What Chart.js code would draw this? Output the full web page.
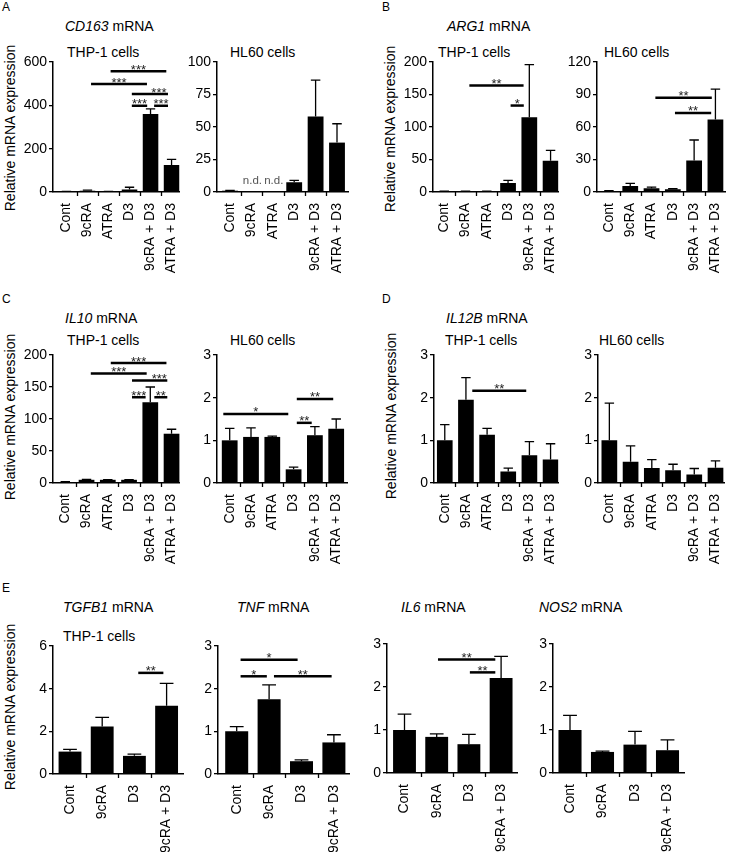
<!DOCTYPE html>
<html>
<head>
<meta charset="utf-8">
<script src="https://cdn.jsdelivr.net/npm/chart.js@4.4.1/dist/chart.umd.min.js"></script>
<style>
body { margin: 0; background: #fff; width: 729px; height: 852px; position: relative; overflow: hidden;
  font-family: "Liberation Sans", Arial, sans-serif; color: #000; }
canvas, .t { position: absolute; }
.t { font-size: 14px; line-height: 16px; white-space: nowrap; }
.lt { font-size: 12px; line-height: 14px; }
.yl { width: 220px; text-align: center; transform: rotate(-90deg); }
</style>
</head>
<body>
<!-- panel letters -->
<div class="t lt" style="left:2px;top:0px">A</div>
<div class="t lt" style="left:382px;top:0px">B</div>
<div class="t lt" style="left:2px;top:292px">C</div>
<div class="t lt" style="left:382px;top:292px">D</div>
<div class="t lt" style="left:2px;top:581px">E</div>

<!-- gene titles -->
<div class="t" style="left:65px;top:18px"><i>CD163</i> mRNA</div>
<div class="t" style="left:447px;top:18px"><i>ARG1</i> mRNA</div>
<div class="t" style="left:65px;top:310px"><i>IL10</i> mRNA</div>
<div class="t" style="left:446px;top:310px"><i>IL12B</i> mRNA</div>
<div class="t" style="left:63px;top:599px"><i>TGFB1</i> mRNA</div>
<div class="t" style="left:237px;top:599px"><i>TNF</i> mRNA</div>
<div class="t" style="left:401px;top:599px"><i>IL6</i> mRNA</div>
<div class="t" style="left:539px;top:599px"><i>NOS2</i> mRNA</div>

<!-- cell lines -->
<div class="t" style="left:67px;top:44px">THP-1 cells</div>
<div class="t" style="left:230px;top:44px">HL60 cells</div>
<div class="t" style="left:438px;top:44px">THP-1 cells</div>
<div class="t" style="left:604px;top:44px">HL60 cells</div>
<div class="t" style="left:67px;top:332px">THP-1 cells</div>
<div class="t" style="left:230px;top:332px">HL60 cells</div>
<div class="t" style="left:445px;top:332px">THP-1 cells</div>
<div class="t" style="left:599px;top:332px">HL60 cells</div>
<div class="t" style="left:63px;top:628px">THP-1 cells</div>

<!-- y axis titles -->
<div class="t yl" style="left:-100px;top:120px">Relative mRNA expression</div>
<div class="t yl" style="left:280px;top:121px">Relative mRNA expression</div>
<div class="t yl" style="left:-100px;top:409px">Relative mRNA expression</div>
<div class="t yl" style="left:281px;top:408px">Relative mRNA expression</div>
<div class="t yl" style="left:-100px;top:699px">Relative mRNA expression</div>

<script>
'use strict'

// categories

var cats6 = ['Cont', '9cRA', 'ATRA', 'D3', '9cRA + D3', 'ATRA + D3'];
var cats4 = ['Cont', '9cRA', 'D3', '9cRA + D3'];

// values (mean, error); null = n.d.
// sig rows: [from, to, level, stars, text position] in category units

var cd163Thp1 = [2, 6, 2, 12, 360, 125];
var cd163Thp1Err = [1, 3, 1, 10, 24, 26];
var cd163Thp1Ticks = [0, 200, 400, 600];
var cd163Thp1Sig = [[2.1, 4.75, 557, '***'], [1.17, 3.83, 498, '***'], [3.11, 4.83, 452, '***', 4.4],
  [3.11, 3.84, 398, '***'], [4.17, 4.83, 398, '***']];

var cd163Hl60 = [1, null, null, 7.5, 58, 38];
var cd163Hl60Err = [0.3, 0, 0, 1.5, 28, 14.5];
var cd163Hl60Ticks = [0, 25, 50, 75, 100];

var arg1Thp1 = [1, 1, 1, 14, 115, 48];
var arg1Thp1Err = [0.5, 0.5, 0.5, 4, 81, 16];
var arg1Thp1Ticks = [0, 50, 100, 150, 200];
var arg1Thp1Sig = [[1.18, 3.73, 164, '**'], [3.12, 3.74, 133, '*']];

var arg1Hl60 = [1, 5.5, 3.5, 2.5, 29, 67];
var arg1Hl60Err = [0.3, 2.5, 1, 0.5, 19, 28];
var arg1Hl60Ticks = [0, 30, 60, 90, 120];
var arg1Hl60Sig = [[2.18, 4.83, 87, '**'], [3.1, 4.8, 73, '**']];

var il10Thp1 = [1.5, 5, 5, 5, 126, 77];
var il10Thp1Err = [0.5, 0.5, 0.3, 0.3, 24, 7];
var il10Thp1Ticks = [0, 50, 100, 150, 200];
var il10Thp1Sig = [[2.14, 4.76, 187.5, '***'], [1.2, 3.83, 171, '***'], [3.14, 4.8, 160, '***', 4.42],
  [3.14, 3.78, 134, '***'], [4.19, 4.8, 134, '**']];

var il10Hl60 = [1.0, 1.08, 1.08, 0.32, 1.12, 1.27];
var il10Hl60Err = [0.28, 0.21, 0.02, 0.05, 0.2, 0.23];
var il10Hl60Ticks = [0, 1, 2, 3];
var il10Hl60Sig = [[-0.3, 2.75, 1.62, '*'], [3.15, 3.85, 1.41, '**'], [3.15, 4.86, 1.97, '**']];

var il12bThp1 = [1.0, 1.95, 1.13, 0.27, 0.65, 0.55];
var il12bThp1Err = [0.37, 0.52, 0.15, 0.08, 0.32, 0.37];
var il12bThp1Ticks = [0, 1, 2, 3];
var il12bThp1Sig = [[1.3, 3.85, 2.16, '**']];

var il12bHl60 = [1.0, 0.5, 0.35, 0.3, 0.2, 0.36];
var il12bHl60Err = [0.87, 0.37, 0.2, 0.14, 0.14, 0.16];
var il12bHl60Ticks = [0, 1, 2, 3];

var tgfb1 = [1.05, 2.23, 0.85, 3.2];
var tgfb1Err = [0.1, 0.42, 0.08, 1.05];
var tgfb1Ticks = [0, 2, 4, 6];
var tgfb1Sig = [[2.12, 2.9, 4.74, '**']];

var tnf = [1.0, 1.75, 0.3, 0.74];
var tnfErr = [0.11, 0.34, 0.03, 0.18];
var tnfTicks = [0, 1, 2, 3];
var tnfSig = [[0.12, 1.88, 2.68, '*'], [0.12, 0.93, 2.29, '*'], [1.15, 2.93, 2.29, '**']];

var il6 = [1.0, 0.84, 0.67, 2.21];
var il6Err = [0.37, 0.07, 0.23, 0.5];
var il6Ticks = [0, 1, 2, 3];
var il6Sig = [[1.04, 2.82, 2.64, '**'], [2.03, 2.82, 2.34, '**']];

var nos2 = [1.0, 0.49, 0.66, 0.53];
var nos2Err = [0.34, 0.02, 0.31, 0.24];
var nos2Ticks = [0, 1, 2, 3];

// where each plot sits on the page (axis corners in px)

var panels = [
  {cats: cats6, vals: cd163Thp1, err: cd163Thp1Err, ticks: cd163Thp1Ticks, sig: cd163Thp1Sig, axL: 53, axR: 182, top: 62, bot: 192, c0: 66.7, step: 21.4, bar: 0.74},
  {cats: cats6, vals: cd163Hl60, err: cd163Hl60Err, ticks: cd163Hl60Ticks, sig: [], axL: 217, axR: 348, top: 62, bot: 192, c0: 230, step: 21.4, bar: 0.74},
  {cats: cats6, vals: arg1Thp1, err: arg1Thp1Err, ticks: arg1Thp1Ticks, sig: arg1Thp1Sig, axL: 433, axR: 561, top: 62, bot: 192, c0: 444.5, step: 21.7, bar: 0.74},
  {cats: cats6, vals: arg1Hl60, err: arg1Hl60Err, ticks: arg1Hl60Ticks, sig: arg1Hl60Sig, axL: 597, axR: 726, top: 62, bot: 192, c0: 609, step: 21.4, bar: 0.74},
  {cats: cats6, vals: il10Thp1, err: il10Thp1Err, ticks: il10Thp1Ticks, sig: il10Thp1Sig, axL: 53, axR: 182, top: 355, bot: 483, c0: 65.5, step: 21.6, bar: 0.74},
  {cats: cats6, vals: il10Hl60, err: il10Hl60Err, ticks: il10Hl60Ticks, sig: il10Hl60Sig, axL: 217, axR: 347, top: 355, bot: 483, c0: 229.7, step: 21.3, bar: 0.74},
  {cats: cats6, vals: il12bThp1, err: il12bThp1Err, ticks: il12bThp1Ticks, sig: il12bThp1Sig, axL: 434, axR: 561, top: 355, bot: 483, c0: 445, step: 21.6, bar: 0.74},
  {cats: cats6, vals: il12bHl60, err: il12bHl60Err, ticks: il12bHl60Ticks, sig: [], axL: 598, axR: 726, top: 355, bot: 483, c0: 609.5, step: 21.5, bar: 0.74},
  {cats: cats4, vals: tgfb1, err: tgfb1Err, ticks: tgfb1Ticks, sig: tgfb1Sig, axL: 53, axR: 183, top: 646, bot: 774, c0: 70, step: 32.2, bar: 0.71},
  {cats: cats4, vals: tnf, err: tnfErr, ticks: tnfTicks, sig: tnfSig, axL: 218, axR: 349, top: 646, bot: 774, c0: 236.7, step: 32.4, bar: 0.71},
  {cats: cats4, vals: il6, err: il6Err, ticks: il6Ticks, sig: il6Sig, axL: 387, axR: 517, top: 644, bot: 773, c0: 404.5, step: 32.2, bar: 0.71},
  {cats: cats4, vals: nos2, err: nos2Err, ticks: nos2Ticks, sig: [], axL: 553, axR: 684, top: 644, bot: 773, c0: 570, step: 32.5, bar: 0.71}
];

var FONT = '"Liberation Sans", Arial, sans-serif';
Chart.defaults.font.family = FONT;
Chart.defaults.color = '#000';

var PL = 40, PR = 10, PT = 14, PB = 92;

function drawPanel(p) {
  var cv = document.createElement('canvas');
  cv.width = p.axR - p.axL + PL + PR;
  cv.height = p.bot - p.top + PT + PB;
  cv.style.left = (p.axL - PL) + 'px';
  cv.style.top = (p.top - PT) + 'px';
  document.body.appendChild(cv);

  var n = p.cats.length;
  var yMax = p.ticks[p.ticks.length - 1];

  // error bars, category ticks, n.d. and significance bars
  var marks = {
    id: 'marks',
    afterDatasetsDraw: function(chart) {
      var ctx = chart.ctx, x = chart.scales.x, y = chart.scales.y;
      var meta = chart.getDatasetMeta(0);
      var bottom = chart.chartArea.bottom;
      ctx.save();
      ctx.strokeStyle = '#000';
      ctx.lineWidth = 1.3;
      p.vals.forEach(function(v, i) {
        var cx = x.getPixelForValue(i);
        if (v === null) {
          ctx.fillStyle = '#555';
          ctx.font = '11.5px ' + FONT;
          ctx.textAlign = 'center';
          ctx.fillText('n.d.', cx + 1, bottom - 8);
          return;
        }
        if (!p.err[i]) return;
        var w = meta.data[i].width * 0.3;
        var y0 = y.getPixelForValue(v), y1 = y.getPixelForValue(v + p.err[i]);
        ctx.beginPath();
        ctx.moveTo(cx, y0); ctx.lineTo(cx, y1);
        ctx.moveTo(cx - w, y1); ctx.lineTo(cx + w, y1);
        ctx.stroke();
      });
      for (var k = 0; k < n - 1; k++) {
        var tx = Math.round(x.getPixelForValue(k + 0.5)) + 0.5;
        ctx.beginPath();
        ctx.moveTo(tx, bottom); ctx.lineTo(tx, bottom + 4);
        ctx.stroke();
      }
      ctx.lineWidth = 2.5;
      ctx.fillStyle = '#222';
      ctx.font = '13px ' + FONT;
      ctx.textAlign = 'center';
      p.sig.forEach(function(s) {
        var x1 = x.getPixelForValue(s[0]), x2 = x.getPixelForValue(s[1]);
        var yy = y.getPixelForValue(s[2]);
        ctx.beginPath();
        ctx.moveTo(x1, yy); ctx.lineTo(x2, yy);
        ctx.stroke();
        var mx = s.length > 4 ? x.getPixelForValue(s[4]) : (x1 + x2) / 2;
        ctx.fillText(s[3], mx, yy + 2.5);
      });
      ctx.restore();
    }
  };

  return new Chart(cv, {
    type: 'bar',
    data: {
      datasets: [{
        data: p.vals.map(function(v, i) { return {x: i, y: v}; }),
        backgroundColor: '#000',
        borderWidth: 0,
        categoryPercentage: 1,
        barPercentage: p.bar
      }]
    },
    options: {
      responsive: false,
      animation: false,
      layout: {padding: {top: PT, right: PR, left: 0, bottom: 0}},
      plugins: {legend: {display: false}, tooltip: {enabled: false}},
      scales: {
        x: {
          type: 'linear',
          min: -(p.c0 - p.axL) / p.step,
          max: (p.axR - p.c0) / p.step,
          offset: false,
          grid: {display: false},
          border: {display: true, color: '#000', width: 1.5},
          ticks: {
            stepSize: 1, includeBounds: false, autoSkip: false,
            minRotation: 90, maxRotation: 90, padding: 3,
            font: {size: 14},
            callback: function(v) { return p.cats[v] !== undefined ? p.cats[v] : ''; }
          },
          afterFit: function(s) { s.height = PB; }
        },
        y: {
          min: 0,
          max: yMax,
          ticks: {stepSize: p.ticks[1] - p.ticks[0], padding: 2, font: {size: 14}},
          grid: {drawOnChartArea: false, tickLength: 4, color: '#000', lineWidth: 1.3},
          border: {color: '#000', width: 1.5},
          afterFit: function(s) { s.width = PL; }
        }
      }
    },
    plugins: [marks]
  });
}

panels.forEach(drawPanel);
</script>
</body>
</html>
